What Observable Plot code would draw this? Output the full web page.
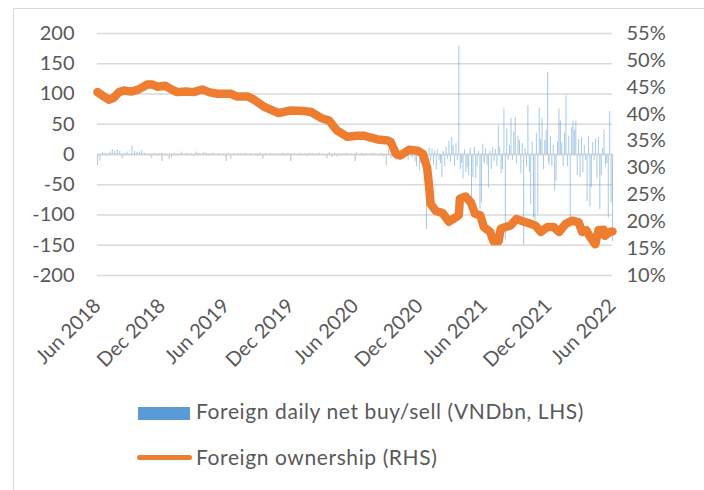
<!DOCTYPE html>
<html>
<head>
<meta charset="utf-8">
<script src="https://cdn.jsdelivr.net/npm/d3@7"></script>
<script src="https://cdn.jsdelivr.net/npm/@observablehq/plot@0.6"></script>
<style>
  html, body { margin: 0; padding: 0; background: #fff; }
  body { width: 704px; height: 490px; position: relative; overflow: hidden; font-family: Lato, "Open Sans", sans-serif; color: #595959; }
  #frame { position: absolute; left: 13px; top: 8px; width: 720px; height: 520px; border: 1px solid #d9d9d9; box-sizing: border-box; }
  #chart { position: absolute; left: 0; top: 0; }
  .lg-swatch-bar { position: absolute; left: 138px; top: 407px; width: 52px; height: 13px; background: #5B9BD5; }
  .lg-swatch-line { position: absolute; left: 137px; top: 455px; width: 55px; height: 5px; border-radius: 3px; background: #ED7D31; }
  .lg-text { position: absolute; left: 196px; font-size: 21px; line-height: 21px; letter-spacing: 0.6px; white-space: nowrap; color: #595959; }
</style>
</head>
<body>
<div id="frame"></div>
<div id="chart"></div>
<div class="lg-swatch-bar"></div>
<div class="lg-text" id="lg1" style="top:400px"></div>
<div class="lg-swatch-line"></div>
<div class="lg-text" id="lg2" style="top:446px"></div>
<script>
// ---------------- DATA ----------------
const seriesNames = ["Foreign daily net buy/sell (VNDbn, LHS)", "Foreign ownership (RHS)"];

// x-axis tick labels (every 6 months)
const xTickLabels = ["Jun 2018", "Dec 2018", "Jun 2019", "Dec 2019", "Jun 2020", "Dec 2020", "Jun 2021", "Dec 2021", "Jun 2022"];
// left axis ticks (VNDbn)
const leftTicks = [200, 150, 100, 50, 0, -50, -100, -150, -200];
// right axis ticks (%)
const rightTicks = [55, 50, 45, 40, 35, 30, 25, 20, 15, 10];

// Foreign daily net buy/sell, early period: one value per week from 2018-06-01
const earlyStart = "2018-06-01";
const earlyStepDays = 7;
const earlyFlows = [
  -19, -11, 3, 2, -3, 4, 8, 6, 8, 5,
  -7, 2, 4, -2, 14, 5, 3, 4, 6, 2,
  1, -2, -7, 2, -3, 1, 2, -1, -3, -8,
  -6, 2, -2, 1, 4, -1, 2, -2, 1, -3,
  4, 2, -1, 3, 2, -2, 1, 2, -1, 1,
  -2, 1, -3, 2, -8, 1, -2, 2, 1, -1,
  2, -1, 1, -2, 1, -3, 2, -8, 1, -1,
  2, 1, -2, 1, -1, 2, -3, 1, 2, -1,
  1, -2, 2, -1, 1, -3, 2, 1, -2, 1,
  2, -1, -2, -7, 3, -5, 2, -4, 1, -2,
  1, 2, -1, 1, -2, 3, -1, 2, -3, 1,
  -2, 1, 2, -1, -3, 2, -4, -19, 8, -6,
  3, -10
];
// Foreign daily net buy/sell, late period: one value every 4 days from 2020-10-01
const lateStart = "2020-10-01";
const lateStepDays = 4;
const lateFlows = [
  3, -5, 2, -8, 4, -3, 6, -10, 2, -4,
  -6, 5, -12, -20, 8, -27, -15, 10, -22, -35,
  -124, -18, 11, -12, 9, -18, 6, -25, 8, -10,
  -15, -38, 5, -20, 12, -8, 22, -12, 28, 15,
  -20, 18, -10, 179, -25, -15, -40, 8, -30, -22,
  -35, 10, -72, -38, 12, -40, -20, 5, -91, -80,
  17, -15, 10, -18, -55, 6, -25, 11, -12, 8,
  -20, 47, 12, -32, -25, 75, -141, 42, -10, 15,
  60, -10, 37, 61, -15, 30, 23, -32, 18, -150,
  10, -20, 81, -30, -83, 20, -105, -110, 35, -99,
  77, 25, 60, -25, 23, 40, 136, -18, 30, -20,
  15, -61, -44, 20, 75, 55, 20, -20, 35, 97,
  -20, 30, -105, 45, 55, 40, 55, -35, 25, -38,
  28, -30, 15, -10, -78, 30, -87, -55, 20, -10,
  25, -40, 28, -91, -35, 10, 40, -20, -15, -105,
  71, -80, -144
];

// Foreign ownership (%)
const ownDates = [
  "2018-06-01","2018-06-19","2018-07-03","2018-07-16","2018-08-01","2018-08-15","2018-09-04","2018-09-22",
  "2018-10-07","2018-10-19","2018-11-04","2018-11-19","2018-12-10","2018-12-25","2019-01-13","2019-02-07",
  "2019-03-01","2019-03-25","2019-04-13","2019-05-07","2019-06-13","2019-07-01","2019-08-01","2019-08-19",
  "2019-09-16","2019-10-10","2019-10-28","2019-12-01","2020-01-07","2020-01-28","2020-02-25","2020-03-19",
  "2020-04-10","2020-05-10","2020-06-07","2020-06-25","2020-07-13","2020-08-04","2020-09-01","2020-09-10",
  "2020-09-25","2020-10-07","2020-11-01","2020-11-25","2020-12-10","2020-12-22","2020-12-28","2021-01-01",
  "2021-01-16","2021-02-04","2021-02-22","2021-03-13","2021-03-22","2021-03-25","2021-04-10","2021-04-25",
  "2021-05-07","2021-05-22","2021-06-01","2021-06-19","2021-06-28","2021-07-13","2021-07-19","2021-08-01",
  "2021-08-16","2021-09-01","2021-09-19","2021-10-07","2021-10-25","2021-11-10","2021-11-28","2021-12-16",
  "2022-01-01","2022-01-19","2022-02-07","2022-02-25","2022-03-07","2022-03-19","2022-03-28","2022-04-13",
  "2022-04-22","2022-05-07","2022-05-10","2022-05-25","2022-06-01"
];
const ownPct = [
  44.1, 43.3, 42.7, 43.0, 44.1, 44.4, 44.2, 44.5,
  45.0, 45.5, 45.5, 45.1, 45.3, 44.7, 44.1, 44.2,
  44.1, 44.6, 44.1, 43.8, 43.8, 43.3, 43.3, 42.7,
  41.4, 40.7, 40.2, 40.7, 40.6, 40.4, 39.3, 38.8,
  37.0, 35.8, 36.0, 36.0, 35.7, 35.3, 35.1, 34.8,
  32.6, 32.3, 33.4, 33.2, 32.6, 30.1, 26.4, 23.3,
  22.0, 21.6, 20.0, 20.8, 21.2, 24.3, 24.7, 23.6,
  21.5, 21.2, 19.0, 18.1, 16.4, 16.4, 18.7, 19.0,
  19.3, 20.5, 20.1, 19.7, 19.3, 18.1, 19.0, 19.0,
  18.1, 19.6, 20.2, 19.9, 18.1, 18.4, 17.3, 15.8,
  18.4, 18.5, 17.4, 18.1, 18.2
];

// ---------------- BUILD ----------------
const parseDay = d3.utcParse("%Y-%m-%d");
const parseTick = d3.utcParse("%b %Y");
const tickDates = xTickLabels.map(parseTick);

// map right-axis percentages onto the left-axis scale (55% <-> 200, 10% <-> -200)
const toLeft = p => (p - 32.5) * 400 / 45;
const fromLeft = v => v * 45 / 400 + 32.5;

const flows = [
  ...earlyFlows.map((v, i) => ({date: d3.utcDay.offset(parseDay(earlyStart), i * earlyStepDays), v})),
  ...lateFlows.map((v, i) => ({date: d3.utcDay.offset(parseDay(lateStart), i * lateStepDays), v}))
];
const own = ownDates.map((d, i) => ({date: parseDay(d), v: toLeft(ownPct[i])}));

const chart = Plot.plot({
  width: 704,
  height: 380,
  marginLeft: 97,
  marginRight: 92,
  marginTop: 33,
  marginBottom: 105,
  style: {fontFamily: "Lato, 'Open Sans', sans-serif", fontSize: "20px", color: "#595959", background: "transparent", overflow: "visible"},
  x: {type: "utc", domain: [tickDates[0], tickDates[tickDates.length - 1]]},
  y: {domain: [leftTicks[leftTicks.length - 1], leftTicks[0]]},
  marks: [
    Plot.ruleY(leftTicks, {stroke: "#d9d9d9", strokeWidth: 1.5}),
    Plot.ruleX(flows, {x: "date", y1: 0, y2: "v", stroke: "#5B9BD5", strokeOpacity: 0.55, strokeWidth: 1}),
    Plot.ruleY([0], {stroke: "#d0d0d0", strokeWidth: 1.5}),
    Plot.ruleX(tickDates, {x: d => d, y1: 0, y2: 0, insetBottom: -7, stroke: "#d0d0d0", strokeWidth: 1.5}),
    Plot.axisY(leftTicks, {anchor: "left", tickSize: 0, tickPadding: 23, tickFormat: d => String(d), label: null, fill: "#595959"}),
    Plot.axisY(rightTicks.map(toLeft), {anchor: "right", tickSize: 0, tickPadding: 14, tickFormat: v => `${Math.round(fromLeft(v))}%`, label: null, fill: "#595959"}),
    Plot.axisX(tickDates, {anchor: "bottom", tickSize: 0, tickPadding: 27, tickRotate: -45, tickFormat: d3.utcFormat("%b %Y"), label: null, fill: "#595959"}),
    Plot.line(own, {x: "date", y: "v", stroke: "#ED7D31", strokeWidth: 8.5, strokeLinejoin: "round", strokeLinecap: "round"})
  ]
});
document.getElementById("chart").appendChild(chart);
document.getElementById("lg1").textContent = seriesNames[0];
document.getElementById("lg2").textContent = seriesNames[1];
</script>
</body>
</html>
